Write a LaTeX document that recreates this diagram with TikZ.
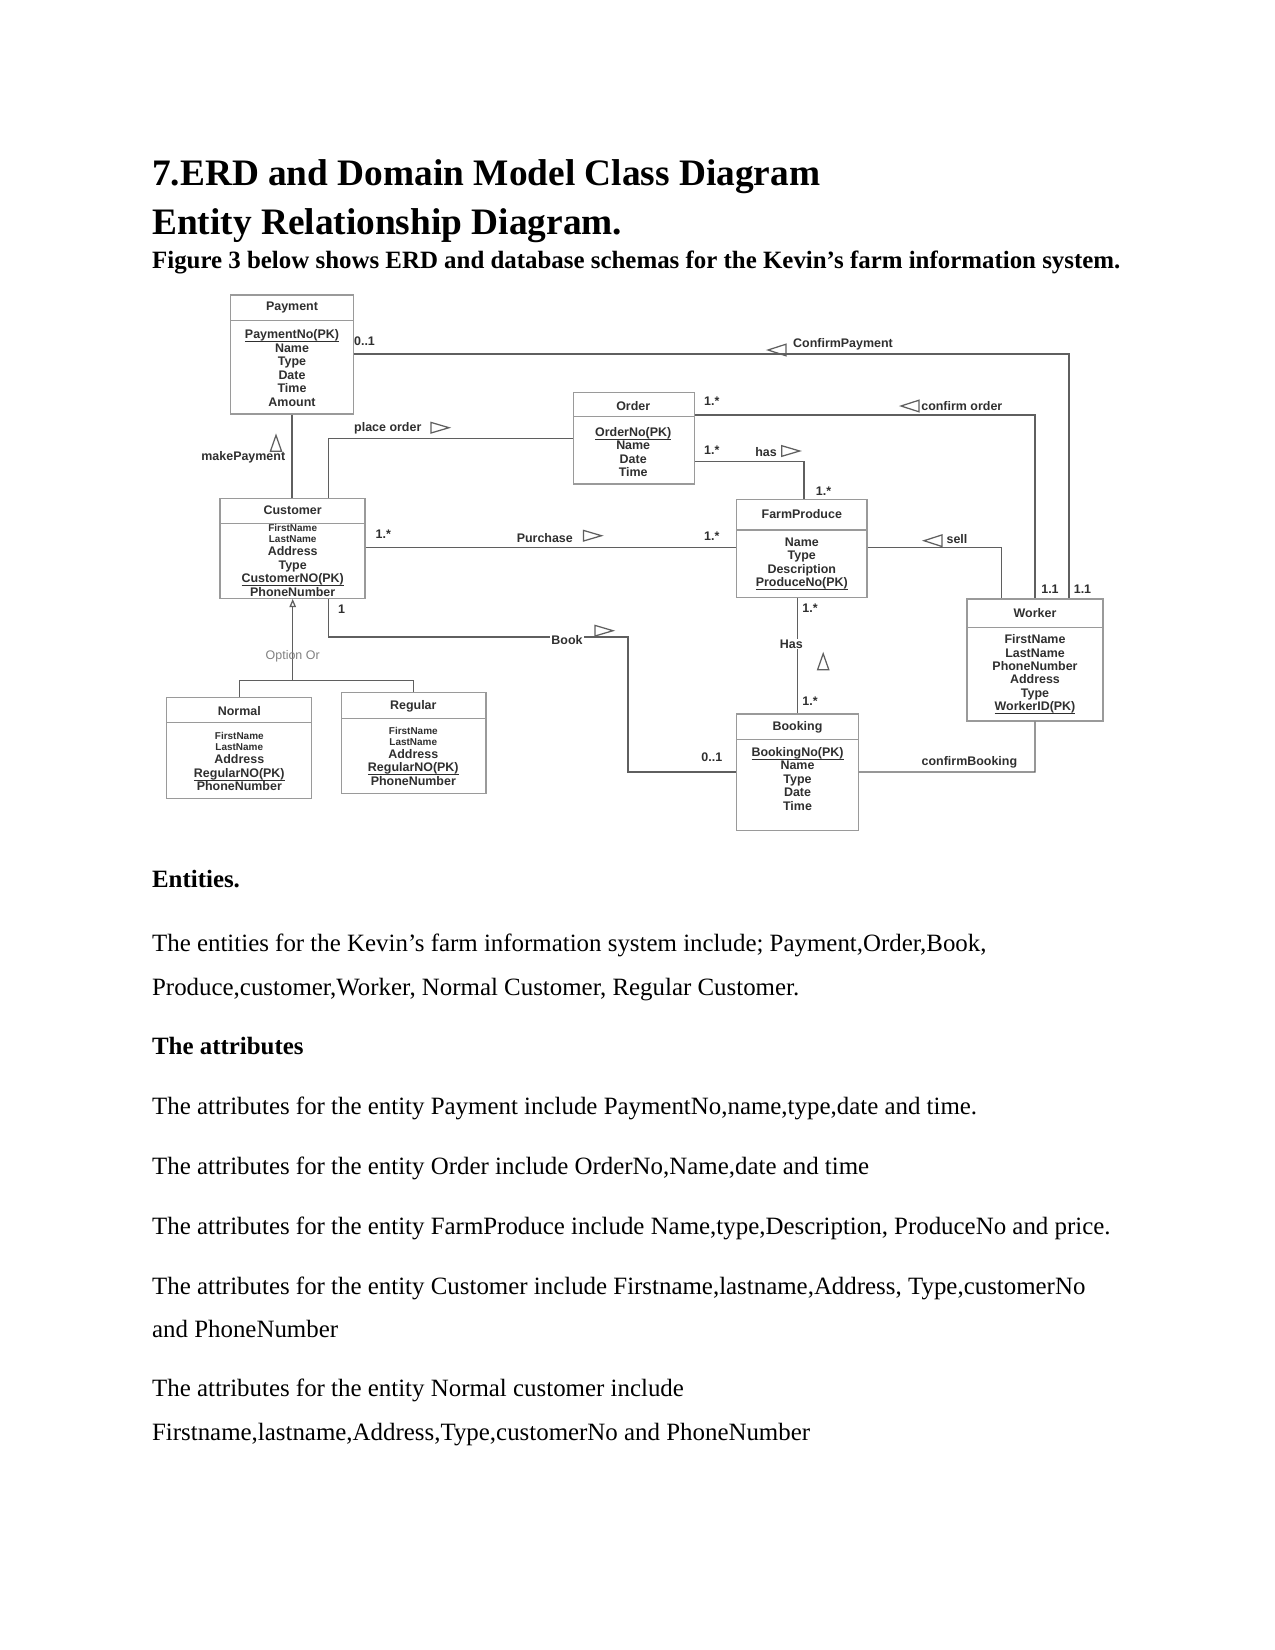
\documentclass[tikz,border=0pt]{standalone}
\usepackage{fontspec}
\setmainfont{Liberation Serif}
\newfontfamily\erdfont{Liberation Sans}
\usetikzlibrary{arrows.meta,fit}

\definecolor{erdline}{HTML}{5F5F5F}
\definecolor{erdbox}{HTML}{9A9A9A}
\definecolor{erdtext}{HTML}{2F2F2F}

\newcommand{\pkey}[1]{\underline{\smash{#1}}\vphantom{#1}}

\tikzset{
  entity/.style={draw=erdbox, line width=0.6pt, inner sep=0pt},
  sepline/.style={draw=erdbox, line width=0.6pt},
  link/.style={draw=erdline, line width=0.6pt},
  ttl/.style={inner sep=0pt, text=erdtext, font=\erdfont\bfseries\fontsize{6}{7}\selectfont},
  attr/.style={inner sep=0pt, align=center, text=erdtext, font=\erdfont\bfseries\fontsize{6}{6.5}\selectfont},
  sattr/.style={attr, font=\erdfont\bfseries\fontsize{4.8}{5.4}\selectfont},
  lbl/.style={inner sep=0.5pt, text=erdtext, font=\erdfont\bfseries\fontsize{6}{7}\selectfont},
  txt/.style={anchor=base west, inner sep=0pt, font=\fontsize{12}{14}\selectfont},
  boldtxt/.style={txt, font=\bfseries\fontsize{12}{14}\selectfont},
  head/.style={txt, font=\bfseries\fontsize{18}{21}\selectfont},
  rtri/.pic={\draw[erdline, line width=0.6pt] (-9,-5.3) -- (9,0) -- (-9,5.3) -- cycle;},
  ltri/.pic={\draw[erdline, line width=0.6pt] (9,-5.8) -- (-9,0) -- (9,5.8) -- cycle;},
  utri/.pic={\draw[erdline, line width=0.6pt] (-5.6,8) -- (0,-8) -- (5.6,8) -- cycle;}
}

\begin{document}
\begin{tikzpicture}[x=0.016933cm, y=-0.016933cm]
  \useasboundingbox (0,0) rectangle (1275,1650);

  % headings
  \node[head] (title1) at (151.7,185.5) {7.ERD and Domain Model Class Diagram};
  \node[head] (title2) at (151.7,234.5) {Entity Relationship Diagram.};
  \node[boldtxt] (caption) at (151.7,268.8) {Figure 3 below shows ERD and database schemas for the Kevin’s farm information system.};

  % entities
  \node[entity, fit={(230.7,295) (353.3,414)}] (payment) {};
  \draw[sepline] (230.7,320.7) -- (353.3,320.7);
  \node[ttl] (payment-t) at (292,308) {Payment};
  \node[attr] (payment-a) at (292,368.1) {\pkey{PaymentNo(PK)}\\Name\\Type\\Date\\Time\\Amount};

  \node[entity, fit={(573.2,392.3) (694.6,484)}] (order) {};
  \draw[sepline] (573.2,416.7) -- (694.6,416.7);
  \node[ttl] (order-t) at (633.2,405.7) {Order};
  \node[attr] (order-a) at (633.2,451.9) {\pkey{OrderNo(PK)}\\Name\\Date\\Time};

  \node[entity, fit={(736.8,499.3) (867.1,597.3)}] (farm) {};
  \draw[sepline] (736.8,530) -- (867.1,530);
  \node[ttl] (farm-t) at (801.8,514.3) {FarmProduce};
  \node[attr] (farm-a) at (801.8,564.3) {Name\\Type\\Description\\\pkey{ProduceNo(PK)}};

  \node[entity, fit={(220,498.3) (365,598.3)}] (customer) {};
  \draw[sepline] (220,523.3) -- (365,523.3);
  \node[ttl] (customer-t) at (292.7,510) {Customer};
  \node[sattr] (customer-n) at (292.7,533.4) {FirstName\\LastName};
  \node[attr] (customer-a) at (292.7,571.5) {Address\\Type\\\pkey{CustomerNO(PK)}\\PhoneNumber};

  \node[entity, fit={(967.1,599) (1102.9,721)}] (worker) {};
  \draw[sepline] (967.1,627.3) -- (1102.9,627.3);
  \node[ttl] (worker-t) at (1035,613.3) {Worker};
  \node[attr] (worker-a) at (1035,674.8) {FirstName\\LastName\\PhoneNumber\\Address\\Type\\\pkey{WorkerID(PK)}};

  \node[entity, fit={(736.8,714) (858.2,830.7)}] (booking) {};
  \draw[sepline] (736.8,739.3) -- (858.2,739.3);
  \node[ttl] (booking-t) at (797.5,727.7) {Booking};
  \node[attr] (booking-a) at (797.5,778.7) {\pkey{BookingNo(PK)}\\Name\\Type\\Date\\Time};

  \node[entity, fit={(166.7,697.3) (311.7,798.3)}] (normal) {};
  \draw[sepline] (166.7,722.7) -- (311.7,722.7);
  \node[ttl] (normal-t) at (239.3,711) {Normal};
  \node[sattr] (normal-n) at (239.3,741.4) {FirstName\\LastName};
  \node[attr] (normal-a) at (239.3,772.8) {Address\\\pkey{RegularNO(PK)}\\PhoneNumber};

  \node[entity, fit={(341.7,692.7) (486,793.3)}] (regular) {};
  \draw[sepline] (341.7,718.3) -- (486,718.3);
  \node[ttl] (regular-t) at (413.3,706.7) {Regular};
  \node[sattr] (regular-n) at (413.3,736.2) {FirstName\\LastName};
  \node[attr] (regular-a) at (413.3,767.4) {Address\\\pkey{RegularNO(PK)}\\PhoneNumber};

  % bend points
  \coordinate (po) at (328.3,438.3);
  \coordinate (cp) at (1069,354);
  \coordinate (co) at (1035,415);
  \coordinate (hs) at (804,461.7);
  \coordinate (pu) at (550,547.7);
  \coordinate (sl) at (1001.8,547.7);
  \coordinate (bk1) at (328.3,637);
  \coordinate (bk2) at (627.9,637);
  \coordinate (bk3) at (627.9,772);
  \coordinate (cb) at (1035,772);
  \coordinate (gen) at (292.7,680.7);

  % relationships
  \draw[link] (payment.south) -- (customer.north -| payment.south);
  \draw[link] (customer.north -| po) -- (po) -- (order.west |- po);
  \draw[link] (payment.east |- cp) -- (cp) -- (worker.north -| cp);
  \draw[link] (order.east |- co) -- (co) -- (worker.north -| co);
  \draw[link] (order.east |- hs) -- (hs) -- (farm.north -| hs);
  \draw[link] (customer.east |- pu) -- (farm.west |- pu);
  \draw[link] (farm.east |- sl) -- (sl) -- (worker.north -| sl);
  \draw[link] (booking.north) -- (farm.south -| booking.north);
  \draw[link] (customer.south -| bk1) -- (bk1) -- (bk2) -- (bk3) -- (booking.west |- bk3);
  \draw[link] (booking.east |- cb) -- (cb) -- (worker.south);
  \draw[link] (normal.north) |- (gen) -| (regular.north);
  \draw[link, -{Triangle[open, length=4pt, width=3.2pt]}] (gen) -- (customer.south -| gen);

  % relationship names
  \node[lbl] (makepay) at (243.3,457.7) {makePayment};
  \node[lbl] (placeord) at (387.8,428.7) {place order};
  \node[lbl] (confpay) at (843,344) {ConfirmPayment};
  \node[lbl] (conford) at (961.8,406) {confirm order};
  \node[lbl] (hasord) at (766,451.7) {has};
  \node[lbl] (purchase) at (544.8,537.7) {Purchase};
  \node[lbl] (sell) at (957,539) {sell};
  \node[lbl, fill=white] (hasbook) at (791.4,644) {Has};
  \node[lbl, fill=white] (book) at (567,639.7) {Book};
  \node[lbl] (confbook) at (969.4,762.7) {confirmBooking};
  \node[inner sep=0pt, text=gray, font=\erdfont\fontsize{6}{7}\selectfont] (option) at (292.7,656) {Option Or};
  \pic at (276,443.3) {utri};
  \pic at (440,427.7) {rtri};
  \pic at (777,350) {ltri};
  \pic at (910,406) {ltri};
  \pic at (790.7,451) {rtri};
  \pic at (592.5,535.7) {rtri};
  \pic at (933,540.7) {ltri};
  \pic at (823.2,661.7) {utri};
  \pic at (604,630.7) {rtri};

  % multiplicities
  \node[lbl] (m1) at (364.5,341.7) {0..1};
  \node[lbl] (m2) at (711.8,401.7) {1.*};
  \node[lbl] (m3) at (711.8,450) {1.*};
  \node[lbl] (m4) at (823.6,491) {1.*};
  \node[lbl] (m5) at (383.3,534.3) {1.*};
  \node[lbl] (m6) at (711.8,536.7) {1.*};
  \node[lbl] (m7) at (1050,589) {1.1};
  \node[lbl] (m8) at (1082.5,589) {1.1};
  \node[lbl] (m9) at (810,608.3) {1.*};
  \node[lbl] (m10) at (810,701.7) {1.*};
  \node[lbl] (m11) at (341.7,609.3) {1};
  \node[lbl] (m12) at (711.8,757.7) {0..1};

  % text below the figure
  \node[boldtxt] (enthead) at (151.7,887.5) {Entities.};
  \node[txt] (ent1) at (151.7,951.5) {The entities for the Kevin’s farm information system include; Payment,Order,Book,};
  \node[txt] (ent2) at (151.7,995.8) {Produce,customer,Worker, Normal Customer, Regular Customer.};
  \node[boldtxt] (atthead) at (151.7,1054) {The attributes};
  \node[txt] (att1) at (151.7,1114.3) {The attributes for the entity Payment include PaymentNo,name,type,date and time.};
  \node[txt] (att2) at (151.7,1174.5) {The attributes for the entity Order include OrderNo,Name,date and time};
  \node[txt] (att3) at (151.7,1234.5) {The attributes for the entity FarmProduce include Name,type,Description, ProduceNo and price.};
  \node[txt] (att4) at (151.7,1294) {The attributes for the entity Customer include Firstname,lastname,Address, Type,customerNo};
  \node[txt] (att4b) at (151.7,1337.7) {and PhoneNumber};
  \node[txt] (att5) at (151.7,1396) {The attributes for the entity Normal customer include};
  \node[txt] (att5b) at (151.7,1440) {Firstname,lastname,Address,Type,customerNo and PhoneNumber};
\end{tikzpicture}
\end{document}
